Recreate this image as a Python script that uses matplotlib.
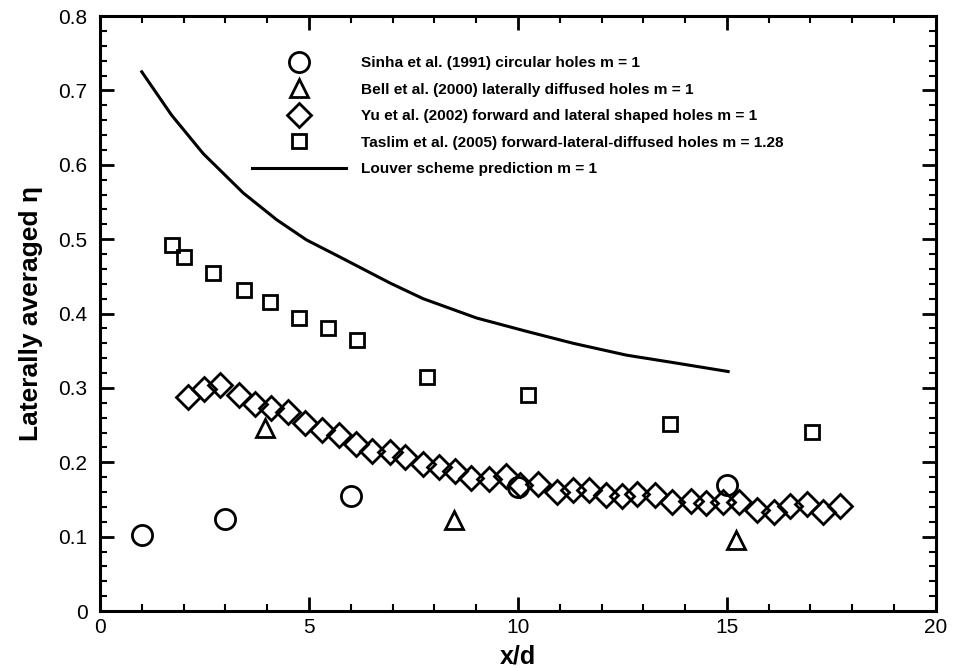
import matplotlib
matplotlib.use("Agg")
import matplotlib.pyplot as plt
from matplotlib.ticker import MultipleLocator, FuncFormatter

# Sinha et al. (1991)
sinha_x = [1.0, 3.0, 6.0, 10.0, 15.0]
sinha_y = [0.102, 0.124, 0.154, 0.167, 0.169]
# Bell et al. (2000)
bell_x = [3.95, 8.47, 15.22]
bell_y = [0.246, 0.122, 0.095]
# Yu et al. (2002)
yu_x = [2.10, 2.48, 2.87, 3.33, 3.71, 4.10, 4.49, 4.91, 5.31, 5.71,
        6.12, 6.51, 6.93, 7.31, 7.72, 8.10, 8.49, 8.88, 9.30, 9.71,
        10.05, 10.47, 10.94, 11.31, 11.70, 12.10, 12.48, 12.86, 13.29, 13.69,
        14.13, 14.51, 14.91, 15.29, 15.73, 16.13, 16.51, 16.91, 17.29, 17.70]
yu_y = [0.288, 0.298, 0.304, 0.291, 0.278, 0.273, 0.268, 0.253, 0.244, 0.237,
        0.224, 0.215, 0.214, 0.207, 0.198, 0.193, 0.188, 0.179, 0.177, 0.182,
        0.170, 0.171, 0.160, 0.163, 0.163, 0.156, 0.155, 0.157, 0.156, 0.146,
        0.148, 0.145, 0.146, 0.146, 0.136, 0.133, 0.141, 0.144, 0.133, 0.141]
# Taslim et al. (2005)
taslim_x = [1.73, 2.01, 2.70, 3.44, 4.07, 4.77, 5.45, 6.15, 7.82, 10.25, 13.64, 17.03]
taslim_y = [0.492, 0.476, 0.455, 0.432, 0.415, 0.394, 0.381, 0.364, 0.314, 0.291, 0.252, 0.241]
# Louver scheme prediction
louver_x = [1.0, 1.71, 2.47, 3.43, 4.23, 4.94, 5.74, 6.94, 7.73, 9.01, 10.21, 11.32, 12.60, 13.72, 15.03]
louver_y = [0.725, 0.667, 0.615, 0.562, 0.526, 0.499, 0.476, 0.441, 0.420, 0.394, 0.376, 0.360, 0.344, 0.334, 0.322]

labels = ["Sinha et al. (1991) circular holes m = 1",
          "Bell et al. (2000) laterally diffused holes m = 1",
          "Yu et al. (2002) forward and lateral shaped holes m = 1",
          "Taslim et al. (2005) forward-lateral-diffused holes m = 1.28",
          "Louver scheme prediction m = 1"]

plt.rcParams['font.family'] = ['Liberation Sans', 'DejaVu Sans']

fig = plt.figure(figsize=(9.54, 6.68), dpi=100)
ax = fig.add_axes([0.1048, 0.0853, 0.8762, 0.8907])

mk = dict(linestyle='none', markerfacecolor='none', markeredgecolor='black', markeredgewidth=2.0)
ax.plot(sinha_x, sinha_y, marker='o', markersize=14.5, label=labels[0], **mk)
ax.plot(bell_x, bell_y, marker='^', markersize=13, label=labels[1], **mk)
ax.plot(yu_x, yu_y, marker='D', markersize=12, label=labels[2], **mk)
ax.plot(taslim_x, taslim_y, marker='s', markersize=10.5, label=labels[3], **mk)
ax.plot(louver_x, louver_y, color='black', linewidth=2.2, label=labels[4])

ax.set_xlim(0, 20)
ax.set_ylim(0, 0.8)
ax.xaxis.set_major_locator(MultipleLocator(5))
ax.xaxis.set_minor_locator(MultipleLocator(1))
ax.yaxis.set_major_locator(MultipleLocator(0.1))
ax.yaxis.set_minor_locator(MultipleLocator(0.02))
ax.tick_params(which='both', direction='in', top=True, right=True, labelsize=15, width=1.5)
ax.tick_params(which='major', length=10, width=2)
ax.tick_params(which='minor', length=5)
ax.tick_params(axis='y', which='major', pad=9)
ax.tick_params(axis='x', which='major', pad=5)
ax.yaxis.set_major_formatter(FuncFormatter(lambda v, p: '0' if abs(v) < 1e-9 else f'{v:.1f}'))
for s in ax.spines.values():
    s.set_linewidth(2.2)

ax.set_xlabel('x/d', fontsize=18, fontweight='bold', labelpad=5.5)
ax.set_ylabel('Laterally averaged η', fontsize=19, fontweight='bold', labelpad=11)

leg = ax.legend(loc='upper left', bbox_to_anchor=(0.182, 0.933), frameon=False,
                prop={'weight': 'bold', 'size': 11.1},
                handlelength=6.1, borderpad=0, borderaxespad=0,
                labelspacing=0.82, handletextpad=0.97)

fig.savefig('out.png', dpi=100)
